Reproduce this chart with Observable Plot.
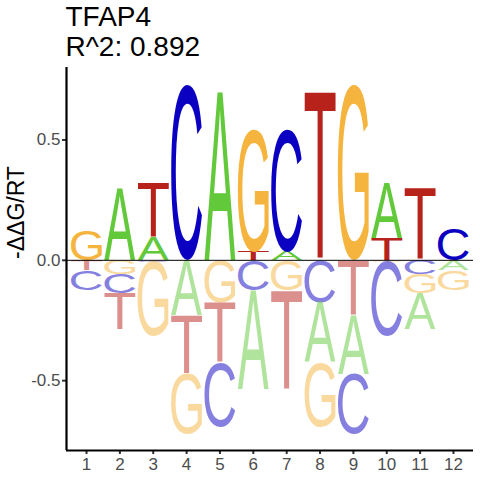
<!DOCTYPE html>
<html>
<head>
<meta charset="utf-8">
<script src="https://cdn.jsdelivr.net/npm/d3@7"></script>
<script src="https://cdn.jsdelivr.net/npm/@observablehq/plot@0.6"></script>
<style>
  html, body { margin: 0; padding: 0; background: #fff; }
  #wrap { width: 480px; height: 480px; overflow: hidden; font-family: "Liberation Sans", Arial, sans-serif; }
  #title { height: 62px; box-sizing: border-box; padding: 1.5px 0 0 65.5px; font-size: 28px; line-height: 30.7px; color: #000; }
  #title div { white-space: nowrap; }
  svg g[aria-label="x-axis"] text, svg g[aria-label="y-axis"] text,
  svg g[aria-label="x-axis tick label"] text, svg g[aria-label="y-axis tick label"] text { font-size: 17px; fill: #4D4D4D; }
</style>
</head>
<body>
<div id="wrap">
  <div id="title"><div id="t1"></div><div id="t2"></div></div>
  <div id="chart"></div>
</div>
<script>
// ---- data (signed -ΔΔG/RT contribution per base per position) ----
const positions = [1, 2, 3, 4, 5, 6, 7, 8, 9, 10, 11, 12];
const bases = ["A", "C", "G", "T"];
const valA = [0.000, 0.299, 0.095, -0.229, 0.697, -0.410, 0.035, -0.247, -0.243, 0.229, -0.149, -0.042];
const valC = [-0.083, -0.080, -0.006, 0.729, -0.270, -0.125, 0.510, -0.174, -0.250, -0.310, -0.058, 0.129];
const valG = [0.128, -0.058, -0.310, -0.250, -0.174, 0.507, -0.125, -0.270, 0.729, -0.006, -0.080, -0.083];
const valT = [-0.042, -0.149, 0.228, -0.243, -0.247, 0.035, -0.410, 0.697, -0.229, 0.093, 0.299, 0.000];
const yTicks = [-0.5, 0.0, 0.5];
const titleText = "TFAP4";
const subtitleText = "R^2: 0.892";
const yLabel = "-ΔΔG/RT";

const baseColors = {A: "#62C93A", C: "#0B00C2", G: "#F5B43E", T: "#B7221B"};
const xDomain = [0.4, 12.6];
const yDomain = [-0.790, 0.801];

document.getElementById("t1").textContent = titleText;
document.getElementById("t2").textContent = subtitleText;

// ---- build stacked table (ordered by magnitude, away from zero) ----
const series = {A: valA, C: valC, G: valG, T: valT};
const letters = [];
positions.forEach((p, i) => {
  const items = bases.map(b => ({pos: p, base: b, value: series[b][i]})).filter(d => d.value !== 0);
  const pos = items.filter(d => d.value > 0).sort((a, b) => a.value - b.value);
  const neg = items.filter(d => d.value < 0).sort((a, b) => b.value - a.value);
  let acc = 0;
  pos.forEach(d => { d.y1 = acc; acc += d.value; d.y2 = acc; letters.push(d); });
  acc = 0;
  neg.forEach(d => { d.y1 = acc; acc += d.value; d.y2 = acc; letters.push(d); });
});

const LETTER_FONT = "Liberation Sans";
const LETTER_WEIGHT = 400;
const LETTER_WIDTH = 0.93;

const hasAxisMarks = typeof Plot.axisX === "function";
const xFmt = d => String(d);
const yFmt = d => d.toFixed(1);
const axisMarks = hasAxisMarks ? [
  Plot.axisX({ticks: positions, tickFormat: xFmt, tickSize: 4, tickPadding: 3, fontSize: 17, fill: "#4D4D4D", stroke: "#333333", strokeWidth: 2, label: null}),
  Plot.axisY({ticks: yTicks, tickFormat: yFmt, tickSize: 4, tickPadding: 2, fontSize: 17, fill: "#4D4D4D", stroke: "#333333", strokeWidth: 2, label: null})
] : [];

const plot = Plot.plot({
  width: 480,
  height: 418,
  marginLeft: 66,
  marginRight: 7,
  marginTop: 5,
  marginBottom: 30,
  style: {fontFamily: "Liberation Sans, Arial, sans-serif", fontSize: "17px", color: "#4D4D4D", background: "#fff", overflow: "visible"},
  x: {type: "linear", domain: xDomain, ticks: positions, tickFormat: xFmt, tickSize: 4, tickPadding: 3, label: null},
  y: {type: "linear", domain: yDomain, ticks: yTicks, tickFormat: yFmt, tickSize: 4, tickPadding: 2, label: null},
  marks: [
    ...axisMarks,
    Plot.text(letters, {
      x: "pos", y: "y1", text: "base",
      fill: d => baseColors[d.base],
      fillOpacity: d => d.value < 0 ? 0.5 : 1,
      fontSize: 100
    }),
    Plot.ruleY([0], {stroke: "#000", strokeWidth: 1}),
    Plot.ruleY([yDomain[0]], {stroke: "#000", strokeWidth: 2.2}),
    Plot.ruleX([xDomain[0]], {stroke: "#000", strokeWidth: 2.2}),
    Plot.text([yLabel], {frameAnchor: "left", dx: -50, rotate: -90, fontSize: 23, fill: "#000"})
  ]
});

document.getElementById("chart").appendChild(plot);

// ---- fit each letter glyph into its stacked box using the plot's scales ----
const sxD = plot.scale("x"), syD = plot.scale("y");
const fx = sxD.apply ? (v => sxD.apply(v)) : d3.scaleLinear(sxD.domain, sxD.range);
const fy = syD.apply ? (v => syD.apply(v)) : d3.scaleLinear(syD.domain, syD.range);
const ctx = document.createElement("canvas").getContext("2d");
ctx.font = `${LETTER_WEIGHT} 100px "${LETTER_FONT}"`;
const metrics = {};
bases.forEach(b => {
  const m = ctx.measureText(b);
  metrics[b] = {l: m.actualBoundingBoxLeft, r: m.actualBoundingBoxRight, a: m.actualBoundingBoxAscent, d: m.actualBoundingBoxDescent};
});
const textGroups = plot.querySelectorAll('g[aria-label="text"]');
const textGroup = textGroups[0];
const nodes = textGroup.querySelectorAll("text");
nodes.forEach((t, i) => {
  const d = letters[i];
  const m = metrics[d.base];
  const x0 = fx(d.pos - LETTER_WIDTH / 2), x1 = fx(d.pos + LETTER_WIDTH / 2);
  const ya = fy(Math.max(d.y1, d.y2)), yb = fy(Math.min(d.y1, d.y2));
  const sx = (x1 - x0) / (m.l + m.r);
  const sy = (yb - ya) / (m.a + m.d);
  t.removeAttribute("dy"); t.removeAttribute("dx");
  t.setAttribute("x", 0); t.setAttribute("y", 0);
  t.style.fontFamily = `"${LETTER_FONT}"`;
  t.style.fontWeight = LETTER_WEIGHT;
  t.style.fontSize = "100px";
  t.style.textAnchor = "start";
  t.setAttribute("text-anchor", "start");
  t.setAttribute("transform", `translate(${x0},${ya}) scale(${sx},${sy}) translate(${m.l},${m.a})`);
});
textGroup.setAttribute("text-anchor", "start");
</script>
</body>
</html>
